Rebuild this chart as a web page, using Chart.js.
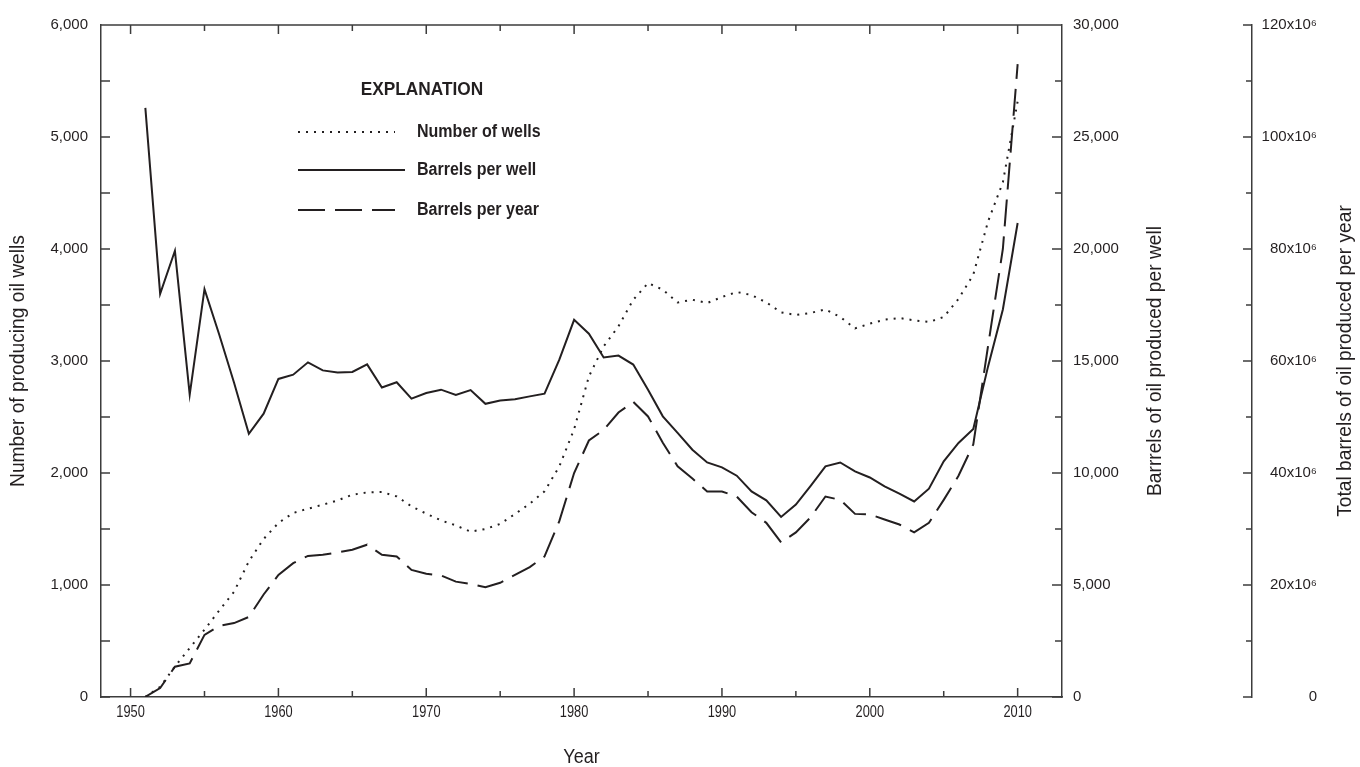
<!DOCTYPE html>
<html>
<head>
<meta charset="utf-8">
<title>Producing oil wells and oil production, 1951-2010</title>
<script src="https://cdn.jsdelivr.net/npm/chart.js@4.4.1/dist/chart.umd.min.js"></script>
<style>
    html, body { margin: 0; padding: 0; background: #ffffff; }
    #chart { display: block; }
</style>
</head>
<body>
<canvas id="chart" width="1360" height="767"></canvas>
<script>
/* ############ */
/* ### Data ### */
/* ############ */

const years = [
    1951, 1952, 1953, 1954, 1955, 1956, 1957, 1958, 1959, 1960,
    1961, 1962, 1963, 1964, 1965, 1966, 1967, 1968, 1969, 1970,
    1971, 1972, 1973, 1974, 1975, 1976, 1977, 1978, 1979, 1980,
    1981, 1982, 1983, 1984, 1985, 1986, 1987, 1988, 1989, 1990,
    1991, 1992, 1993, 1994, 1995, 1996, 1997, 1998, 1999, 2000,
    2001, 2002, 2003, 2004, 2005, 2006, 2007, 2008, 2009, 2010
];

// Number of producing oil wells (left axis)
const wellCounts = [
    1, 90, 273, 437, 601, 773, 940, 1211, 1411, 1554,
    1643, 1681, 1717, 1755, 1806, 1827, 1830, 1791, 1702, 1637,
    1577, 1532, 1476, 1500, 1545, 1634, 1726, 1836, 2059, 2390,
    2862, 3131, 3309, 3547, 3696, 3637, 3523, 3547, 3518, 3571,
    3616, 3589, 3523, 3434, 3411, 3429, 3461, 3393, 3291, 3333,
    3369, 3384, 3363, 3348, 3393, 3554, 3771, 4247, 4595, 5318
];

// Barrels of oil produced per well (first right axis)
const barrelsPerWell = [
    26300, 18000, 19920, 13500, 18210, 16170, 14030, 11750, 12650, 14200,
    14390, 14940, 14580, 14490, 14510, 14850, 13820, 14050, 13320, 13570,
    13720, 13480, 13700, 13090, 13240, 13290, 13420, 13540, 15060, 16840,
    16220, 15160, 15240, 14840, 13720, 12530, 11790, 11040, 10470, 10250,
    9880, 9180, 8780, 8040, 8590, 9430, 10300, 10470, 10070, 9800,
    9400, 9080, 8730, 9300, 10520, 11340, 11960, 14760, 17300, 21160
];

// Total barrels of oil produced per year, millions (second right axis)
const barrelsPerYear = [
    0.03, 1.6, 5.4, 6.0, 11.1, 12.7, 13.2, 14.3, 18.3, 21.8,
    23.9, 25.2, 25.4, 25.8, 26.3, 27.2, 25.4, 25.1, 22.7, 22.0,
    21.7, 20.6, 20.2, 19.6, 20.4, 21.8, 23.2, 25.1, 31.4, 40.0,
    45.8, 47.7, 50.8, 52.7, 50.1, 45.4, 41.2, 39.0, 36.7, 36.7,
    35.8, 33.0, 31.1, 27.6, 29.4, 32.1, 35.8, 35.2, 32.7, 32.6,
    31.7, 30.8, 29.4, 31.1, 35.2, 39.5, 45.1, 62.7, 80.0, 113.0
];

// Tick positions; every other one carries a label
const yearTicks = [1950, 1955, 1960, 1965, 1970, 1975, 1980, 1985, 1990, 1995, 2000, 2005, 2010];
const wellTicks = [0, 500, 1000, 1500, 2000, 2500, 3000, 3500, 4000, 4500, 5000, 5500, 6000];
const perWellTicks = [0, 2500, 5000, 7500, 10000, 12500, 15000, 17500, 20000, 22500, 25000, 27500, 30000];
const perYearTicks = [0, 10, 20, 30, 40, 50, 60, 70, 80, 90, 100, 110, 120];

const yearLabels = yearTicks.filter((v, i) => i % 2 === 0);
const wellLabels = wellTicks.filter((v, i) => i % 2 === 0);
const perWellLabels = perWellTicks.filter((v, i) => i % 2 === 0);
const perYearLabels = perYearTicks.filter((v, i) => i % 2 === 0);

const titles = {
    x: 'Year',
    wells: 'Number of producing oil wells',
    perWell: 'Barrrels of oil produced per well',
    perYear: 'Total barrels of oil produced per year'
};

/* ############## */
/* ### Styles ### */
/* ############## */

const INK = '#231f20';
const AXIS = '#3c3c3c';
const SANS = "'Liberation Sans', Arial, sans-serif";

Chart.defaults.font.family = SANS;
Chart.defaults.color = INK;

// Text squeezed sideways to imitate the condensed face of the original
function narrowText(ctx, text, x, y, font, squeeze, align, angle) {
    ctx.save();
    ctx.translate(x, y);
    if (angle) ctx.rotate(angle);
    ctx.scale(squeeze, 1);
    ctx.font = font;
    ctx.fillStyle = INK;
    ctx.textAlign = align;
    ctx.textBaseline = 'middle';
    ctx.fillText(text, 0, 0);
    ctx.restore();
}

/* ############### */
/* ### Plugins ### */
/* ############### */

// Top frame line and inward tick marks on every axis
const frameAndTicks = {
    id: 'frameAndTicks',
    afterDraw(chart) {
        const { ctx, chartArea: area, scales } = chart;
        ctx.save();
        ctx.strokeStyle = AXIS;
        ctx.lineWidth = 1.5;
        ctx.beginPath();

        ctx.moveTo(area.left, area.top);
        ctx.lineTo(area.right, area.top);

        scales.x.ticks.forEach(t => {
            const px = scales.x.getPixelForValue(t.value);
            const len = yearLabels.includes(t.value) ? 9 : 6;
            ctx.moveTo(px, area.bottom);
            ctx.lineTo(px, area.bottom - len);
            ctx.moveTo(px, area.top);
            ctx.lineTo(px, area.top + len);
        });

        scales.yWells.ticks.forEach(t => {
            const py = scales.yWells.getPixelForValue(t.value);
            ctx.moveTo(area.left, py);
            ctx.lineTo(area.left + 9, py);
        });

        scales.yWell.ticks.forEach(t => {
            const py = scales.yWell.getPixelForValue(t.value);
            const len = perWellLabels.includes(t.value) ? 10 : 7;
            ctx.moveTo(area.right, py);
            ctx.lineTo(area.right - len, py);
        });

        const yy = scales.yYear;
        yy.ticks.forEach(t => {
            const py = yy.getPixelForValue(t.value);
            const len = perYearLabels.includes(t.value) ? 9 : 6;
            ctx.moveTo(yy.left, py);
            ctx.lineTo(yy.left - len, py);
        });

        ctx.stroke();
        ctx.restore();
    }
};

// Year labels and the four axis titles, in the narrow face
const axisText = {
    id: 'axisText',
    afterDraw(chart) {
        const { ctx, chartArea: area, scales } = chart;
        const midY = (area.top + area.bottom) / 2;
        const up = -Math.PI / 2;
        const titleFont = '20px ' + SANS;

        yearLabels.forEach(v => {
            narrowText(ctx, String(v), scales.x.getPixelForValue(v), area.bottom + 16, '16px ' + SANS, 0.8, 'center');
        });

        narrowText(ctx, titles.x, (area.left + area.right) / 2, 757, titleFont, 0.9, 'center');
        narrowText(ctx, titles.wells, 18, midY, titleFont, 0.96, 'center', up);
        narrowText(ctx, titles.perWell, scales.yWell.left + 93, midY, titleFont, 0.96, 'center', up);
        narrowText(ctx, titles.perYear, scales.yYear.right + 28, midY, titleFont, 0.96, 'center', up);
    }
};

// "EXPLANATION" box inside the plot
const explanation = {
    id: 'explanation',
    afterDraw(chart) {
        const { ctx, chartArea: area } = chart;
        const x0 = area.left + 197;
        const sampleEnds = [97, 107, 97];
        const rows = [107, 145, 185];

        narrowText(ctx, 'EXPLANATION', area.left + 321, area.top + 65, 'bold 18px ' + SANS, 0.96, 'center');

        chart.data.datasets.forEach((ds, i) => {
            const y = area.top + rows[i];
            ctx.save();
            ctx.strokeStyle = ds.borderColor;
            ctx.lineWidth = ds.borderWidth;
            ctx.setLineDash(ds.borderDash || []);
            ctx.beginPath();
            ctx.moveTo(x0, y);
            ctx.lineTo(x0 + sampleEnds[i], y);
            ctx.stroke();
            ctx.restore();
            narrowText(ctx, ds.label, area.left + 316, y, 'bold 18px ' + SANS, 0.89, 'left');
        });
    }
};

/* ############# */
/* ### Chart ### */
/* ############# */

function series(values) {
    return years.map((x, i) => ({ x: x, y: values[i] }));
}

function setTicks(list) {
    return scale => { scale.ticks = list.map(v => ({ value: v })); };
}

const tickFont = { family: SANS, size: 15 };
const axisBorder = { display: true, color: AXIS, width: 1.5 };

new Chart(document.getElementById('chart'), {
    type: 'line',
    data: {
        datasets: [{
                label: 'Number of wells',
                data: series(wellCounts),
                yAxisID: 'yWells',
                borderColor: INK,
                borderWidth: 2,
                borderDash: [2, 6]
            },
            {
                label: 'Barrels per well',
                data: series(barrelsPerWell),
                yAxisID: 'yWell',
                borderColor: INK,
                borderWidth: 2,
                borderDash: []
            },
            {
                label: 'Barrels per year',
                data: series(barrelsPerYear),
                yAxisID: 'yYear',
                borderColor: INK,
                borderWidth: 2,
                borderDash: [27, 10]
            }
        ]
    },
    options: {
        responsive: false,
        animation: false,
        devicePixelRatio: 1,
        layout: { padding: { top: 25, left: 0, right: 43, bottom: 0 } },
        elements: {
            point: { radius: 0 },
            line: { tension: 0, fill: false }
        },
        plugins: {
            legend: { display: false },
            tooltip: { enabled: false }
        },
        scales: {
            x: {
                type: 'linear',
                position: 'bottom',
                min: 1948,
                max: 2013,
                afterBuildTicks: setTicks(yearTicks),
                afterFit: s => { s.height = 70; },
                grid: { display: false, drawTicks: false },
                border: axisBorder,
                ticks: { display: false }
            },
            yWells: {
                type: 'linear',
                position: 'left',
                min: 0,
                max: 6000,
                afterBuildTicks: setTicks(wellTicks),
                afterFit: s => { s.width = 101; },
                grid: { display: false, drawTicks: false },
                border: axisBorder,
                ticks: {
                    autoSkip: false,
                    padding: 13,
                    font: tickFont,
                    callback: v => wellLabels.includes(v) ? v.toLocaleString('en-US') : ''
                }
            },
            yWell: {
                type: 'linear',
                position: 'right',
                weight: 0,
                min: 0,
                max: 30000,
                afterBuildTicks: setTicks(perWellTicks),
                afterFit: s => { s.width = 190; },
                grid: { display: false, drawTicks: false },
                border: axisBorder,
                ticks: {
                    autoSkip: false,
                    padding: 11,
                    font: tickFont,
                    callback: v => perWellLabels.includes(v) ? v.toLocaleString('en-US') : ''
                }
            },
            yYear: {
                type: 'linear',
                position: 'right',
                weight: 1,
                min: 0,
                max: 120,
                afterBuildTicks: setTicks(perYearTicks),
                afterFit: s => { s.width = 65; },
                grid: { display: false, drawTicks: false },
                border: axisBorder,
                ticks: {
                    autoSkip: false,
                    padding: 9,
                    crossAlign: 'far',
                    font: tickFont,
                    callback: v => perYearLabels.includes(v) ? (v === 0 ? '0' : v + 'x10\u2076') : ''
                }
            }
        }
    },
    plugins: [frameAndTicks, axisText, explanation]
});
</script>
</body>
</html>
